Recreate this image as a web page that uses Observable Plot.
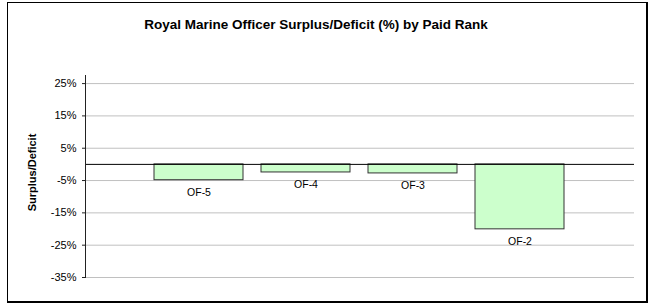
<!DOCTYPE html>
<html>
<head>
<meta charset="utf-8">
<script src="https://cdn.jsdelivr.net/npm/d3@7"></script>
<script src="https://cdn.jsdelivr.net/npm/@observablehq/plot@0.6"></script>
<style>
  html, body { margin: 0; padding: 0; background: #fff; }
  #wrap { position: relative; width: 653px; height: 304px; overflow: hidden; }
  #border { position: absolute; left: 7px; top: 2px; width: 638px; height: 298px;
            border: 1px solid #000; border-right-width: 2px; border-bottom-width: 2px; pointer-events: none; }
  svg { font-family: "Liberation Sans", Arial, sans-serif; }
</style>
</head>
<body>
<div id="wrap"><div id="border"></div></div>
<script>
const ranks = ["OF-5", "OF-4", "OF-3", "OF-2"];
const surplus = [-4.9, -2.5, -2.8, -20.1];
const yTicks = [25, 15, 5, -5, -15, -25, -35];
const titleText = "Royal Marine Officer Surplus/Deficit (%) by Paid Rank";
const yLabel = "Surplus/Deficit";

const data = ranks.map((r, i) => ({rank: r, value: surplus[i]}));

const chart = Plot.plot({
  width: 653,
  height: 304,
  marginLeft: 85,
  marginRight: 19,
  marginTop: 75,
  marginBottom: 27,
  style: {fontFamily: "'Liberation Sans', Arial, sans-serif", fontSize: "10px", color: "#000", background: "transparent"},
  x: {domain: ranks, range: [135, 584], padding: 0.165, axis: null},
  y: {domain: [-35, 27.5], axis: null},
  marks: [
    Plot.ruleY(yTicks, {stroke: "#c0c0c0", strokeWidth: 1}),
    Plot.barY(data, {x: "rank", y: "value", fill: "#ccffcc", stroke: "#333", strokeWidth: 1}),
    Plot.ruleY([0], {stroke: "#000", strokeWidth: 1}),
    Plot.frame({anchor: "left", stroke: "#222", strokeWidth: 1}),
    Plot.axisY(yTicks, {tickSize: 3, tickPadding: 6, tickFormat: d => d + "%", label: null, fontSize: 11, stroke: "#222"}),
    Plot.text(data, {x: "rank", y: "value", text: "rank", dy: 12.5, lineAnchor: "middle", fontSize: 10.5, fill: "#000"}),
    Plot.text([yLabel], {frameAnchor: "left", textAnchor: "middle", dx: -53, dy: -4, rotate: -90, fontWeight: "bold", fontSize: 11, fill: "#000"}),
    Plot.text([titleText], {frameAnchor: "top", dx: -44, dy: -47, lineAnchor: "bottom", fontWeight: "bold", fontSize: 13.5, fill: "#000"})
  ]
});
document.getElementById("wrap").prepend(chart);
</script>
</body>
</html>
